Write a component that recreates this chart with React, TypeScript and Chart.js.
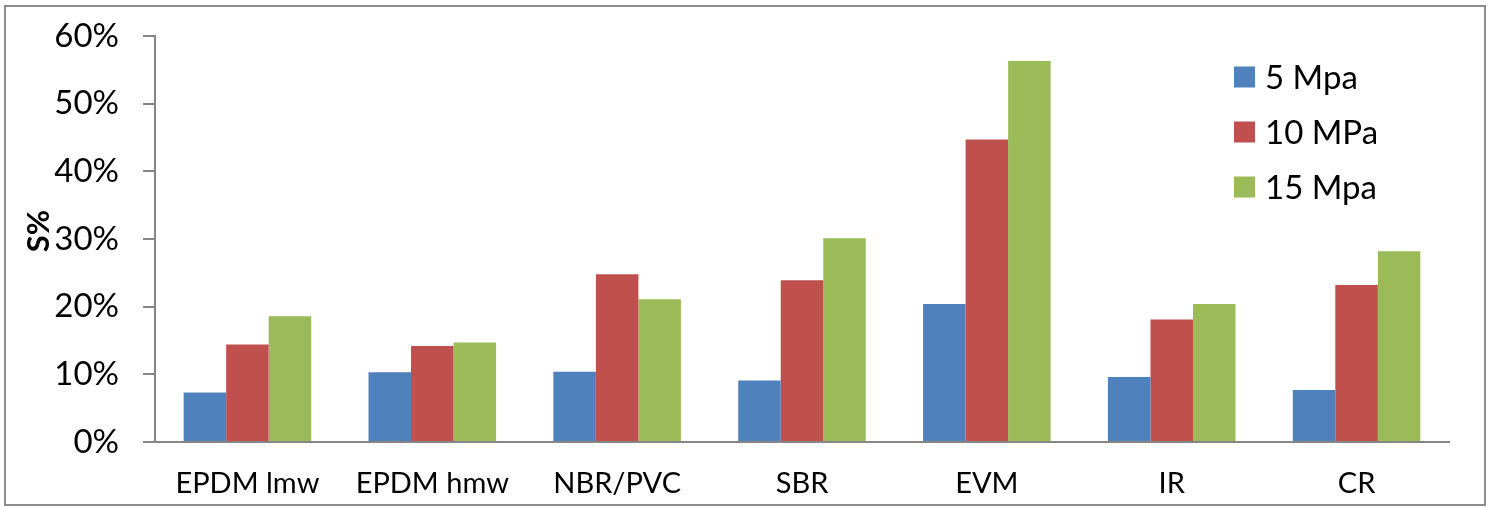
import React, { useEffect, useRef } from "react";
import { Chart, registerables } from "chart.js";

Chart.register(...registerables);

const categories = ["EPDM lmw", "EPDM hmw", "NBR/PVC", "SBR", "EVM", "IR", "CR"];
const seriesNames = ["5 Mpa", "10 MPa", "15 Mpa"];
const seriesColors = ["#4F81BD", "#C0504D", "#9BBB59"];
const values5 = [7.3, 10.3, 10.4, 9.1, 20.4, 9.6, 7.7];
const values10 = [14.4, 14.2, 24.8, 23.9, 44.7, 18.1, 23.2];
const values15 = [18.6, 14.7, 21.1, 30.1, 56.3, 20.4, 28.2];
const yTicks = [0, 10, 20, 30, 40, 50, 60];
const yTitle = "S%";

const FONT = "Lato, 'Liberation Sans', Arial, sans-serif";

const decorPlugin = {
  id: "decor",
  afterDraw(chart: any) {
    const ctx = chart.ctx;
    ctx.save();
    // outer frame
    ctx.strokeStyle = "#8c8c8c";
    ctx.lineWidth = 2;
    ctx.strokeRect(5, 6, 1480, 499);
    // y title
    ctx.fillStyle = "#000";
    ctx.font = `bold 31px ${FONT}`;
    ctx.textAlign = "center";
    ctx.textBaseline = "middle";
    ctx.translate(39, 231);
    ctx.rotate(-Math.PI / 2);
    ctx.fillText(yTitle, 0, 0);
    ctx.restore();
    // legend
    ctx.save();
    ctx.font = `33px ${FONT}`;
    ctx.textAlign = "left";
    ctx.textBaseline = "middle";
    chart.data.datasets.forEach((ds: any, i: number) => {
      const cy = 77 + i * 55;
      ctx.fillStyle = ds.backgroundColor;
      ctx.fillRect(1234, cy - 10.5, 21, 21);
      ctx.fillStyle = "#000";
      ctx.fillText(ds.label, 1265, cy + 1);
    });
    ctx.restore();
  },
};

export default function App() {
  const ref = useRef<HTMLCanvasElement | null>(null);
  useEffect(() => {
    if (!ref.current) return;
    const series = [values5, values10, values15];
    const chart = new Chart(ref.current, {
      type: "bar",
      data: {
        labels: categories,
        datasets: series.map((v, i) => ({
          label: seriesNames[i],
          data: v,
          backgroundColor: seriesColors[i],
          borderWidth: 0,
          categoryPercentage: 0.69,
          barPercentage: 1.0,
        })),
      },
      options: {
        responsive: false,
        animation: false,
        layout: { padding: { left: 0, top: 36, right: 39, bottom: 0 } },
        plugins: {
          legend: { display: false },
          tooltip: { enabled: false },
          title: { display: false },
        },
        scales: {
          x: {
            grid: { display: false, drawTicks: false },
            border: { display: true, color: "#868686", width: 2 },
            ticks: {
              color: "#000",
              font: { family: FONT, size: 29 },
              padding: 24,
              maxRotation: 0,
              autoSkip: false,
            },
            afterFit: (scale: any) => {
              scale.height = 66;
              scale.paddingLeft = 0;
              scale.paddingRight = 0;
            },
          },
          y: {
            min: 0,
            max: 60,
            afterBuildTicks: (scale: any) => {
              scale.ticks = yTicks.map((v) => ({ value: v }));
            },
            grid: {
              display: true,
              drawOnChartArea: false,
              drawTicks: true,
              tickLength: 12,
              color: "#868686",
              lineWidth: 2,
            },
            border: { display: true, color: "#868686", width: 2 },
            ticks: {
              color: "#000",
              font: { family: FONT, size: 33 },
              padding: 24,
              callback: (v: any) => `${v}%`,
            },
            afterFit: (scale: any) => {
              scale.width = 155;
              scale.paddingTop = 0;
              scale.paddingBottom = 0;
            },
          },
        },
      },
      plugins: [decorPlugin],
    });
    return () => chart.destroy();
  }, []);
  return (
    <div style={{ position: "fixed", left: 0, top: 0, width: 1488, height: 508, background: "#fff" }}>
      <canvas ref={ref} width={1488} height={508} style={{ display: "block" }} />
    </div>
  );
}
